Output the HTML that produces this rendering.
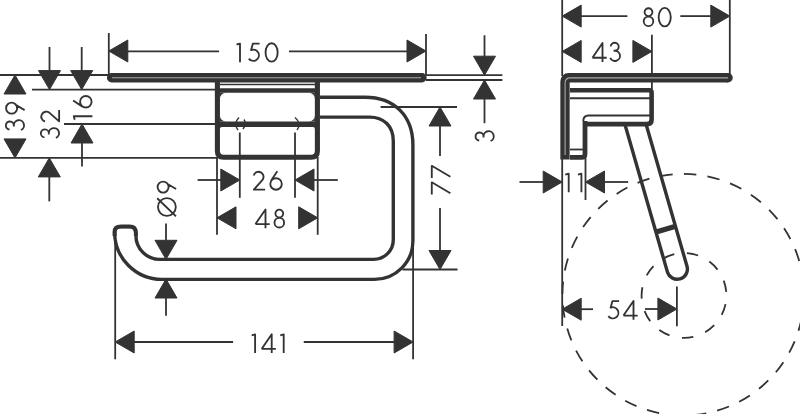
<!DOCTYPE html>
<html><head><meta charset="utf-8"><style>
html,body{margin:0;padding:0;background:#fff;}
svg{display:block;}
text{font-family:"Liberation Sans",sans-serif;fill:#333;stroke:none;}
</style></head><body>
<svg width="800" height="414" viewBox="0 0 800 414">
<g stroke="#333" fill="#333" stroke-linecap="butt">
<line x1="108.8" y1="33" x2="108.8" y2="75" stroke-width="1.8"/>
<line x1="426" y1="34" x2="426" y2="75" stroke-width="1.8"/>
<polygon points="108.8,51 127.8,40 127.8,62"/>
<polygon points="426,51 407,40 407,62"/>
<line x1="127" y1="51.3" x2="219.1" y2="51.3" stroke-width="1.8"/>
<line x1="289" y1="51.3" x2="408" y2="51.3" stroke-width="1.8"/>
<path transform="translate(236.25,62.2)" d="M0.3,-17.7 L3.75,-18.62 V0" fill="none" stroke-width="1.85" stroke-linejoin="round"/>
<path transform="translate(247.6,62.2)" d="M12.0,-18.62 H5.3 L3.51,-12.15 A5.6,5.6 0 1 1 1.23,-3.63" fill="none" stroke-width="1.85" stroke-linejoin="round"/>
<path transform="translate(264.7,62.2)" d="M0.88,-9.75 A6.03,8.88 0 1 1 12.93,-9.75 A6.03,8.88 0 1 1 0.88,-9.75 Z" fill="none" stroke-width="1.85" stroke-linejoin="round"/>
<path d="M111.6,77.75 H422" stroke-width="9.3" stroke-linecap="round" fill="none"/>
<path d="M112,77.8 H421" stroke="#aaaaaa" stroke-width="1.1" fill="none"/>
<line x1="0" y1="75" x2="108" y2="75" stroke-width="1.8"/>
<line x1="32" y1="89.6" x2="217" y2="89.6" stroke-width="1.8"/>
<line x1="64" y1="124" x2="217" y2="124" stroke-width="1.8"/>
<line x1="0" y1="157.9" x2="217" y2="157.9" stroke-width="1.8"/>
<polygon points="15,75 4,94 26,94"/>
<polygon points="15,157.9 4,138.9 26,138.9"/>
<path transform="translate(25,131.2) rotate(-90)" d="M1.72,-15.5 A4.0,4.0 0 1 1 5.7,-11.15 H4.6 M5.7,-11.15 A5.1,5.1 0 1 1 1.21,-4.11" fill="none" stroke-width="1.85" stroke-linejoin="round"/>
<path transform="translate(25,115.2) rotate(-90)" d="M5.1,-0.4 L10.2,-8.9 M1.55,-13.4 A5.5,5.5 0 1 1 12.55,-13.4 A5.5,5.5 0 1 1 1.55,-13.4 Z" fill="none" stroke-width="1.85" stroke-linejoin="round"/>
<polygon points="49.5,89.6 38.5,70.6 60.5,70.6"/>
<line x1="49.5" y1="47" x2="49.5" y2="72" stroke-width="1.8"/>
<polygon points="49.3,157.9 38.3,176.9 60.3,176.9"/>
<line x1="49.3" y1="176" x2="49.3" y2="201.4" stroke-width="1.8"/>
<path transform="translate(60,139.1) rotate(-90)" d="M1.72,-15.5 A4.0,4.0 0 1 1 5.7,-11.15 H4.6 M5.7,-11.15 A5.1,5.1 0 1 1 1.21,-4.11" fill="none" stroke-width="1.85" stroke-linejoin="round"/>
<path transform="translate(60,122.2) rotate(-90)" d="M0.7,-14.96 A5.0,5.0 0 1 1 9.3,-10.44 L0.85,-0.875 H12.1" fill="none" stroke-width="1.85" stroke-linejoin="round"/>
<polygon points="81.7,89.6 70.7,70.6 92.7,70.6"/>
<line x1="81.7" y1="47" x2="81.7" y2="72" stroke-width="1.8"/>
<polygon points="82,124 71,143 93,143"/>
<line x1="82" y1="142" x2="82" y2="166.5" stroke-width="1.8"/>
<path transform="translate(92.4,120) rotate(-90)" d="M0.3,-17.7 L3.75,-18.62 V0" fill="none" stroke-width="1.85" stroke-linejoin="round"/>
<path transform="translate(92.4,108.6) rotate(-90)" d="M8.1,-19.3 L1.96,-9.97 M1.1,-6.55 A5.75,5.75 0 1 1 12.6,-6.55 A5.75,5.75 0 1 1 1.1,-6.55 Z" fill="none" stroke-width="1.85" stroke-linejoin="round"/>
<line x1="426" y1="75.2" x2="502.4" y2="75.2" stroke-width="1.8"/>
<line x1="426" y1="80" x2="502.4" y2="80" stroke-width="1.8"/>
<polygon points="484.5,75.2 473.5,56.2 495.5,56.2"/>
<line x1="484.5" y1="35.3" x2="484.5" y2="57" stroke-width="1.8"/>
<polygon points="484.5,80 473.5,99 495.5,99"/>
<line x1="484.5" y1="98" x2="484.5" y2="123.2" stroke-width="1.8"/>
<path transform="translate(494.7,142.2) rotate(-90)" d="M1.72,-15.5 A4.0,4.0 0 1 1 5.7,-11.15 H4.6 M5.7,-11.15 A5.1,5.1 0 1 1 1.21,-4.11" fill="none" stroke-width="1.85" stroke-linejoin="round"/>
<path d="M217.4,82 V151 Q217.4,157.2 223.6,157.2 H311.2 Q317.4,157.2 317.4,151 V82" stroke-width="5.1" fill="none"/>
<path d="M217.4,90.5 H317.4" stroke-width="4.6" fill="none"/>
<path d="M217.4,124.2 H317.4" stroke-width="5.5" fill="none"/>
<line x1="220" y1="84.5" x2="315" y2="84.5" stroke-width="1.5"/>
<path d="M219.9,92.8 L219.9,98.8 A6,6 0 0 1 225.9,92.8 Z" stroke="none"/>
<path d="M314.9,92.8 L314.9,98.8 A6,6 0 0 0 308.9,92.8 Z" stroke="none"/>
<path d="M219.9,121.45 L219.9,115.45 A6,6 0 0 0 225.9,121.45 Z" stroke="none"/>
<path d="M314.9,121.45 L314.9,115.45 A6,6 0 0 1 308.9,121.45 Z" stroke="none"/>
<path d="M219.9,126.95 L219.9,128.95 A2,2 0 0 1 221.9,126.95 Z" stroke="none"/>
<path d="M314.9,126.95 L314.9,128.95 A2,2 0 0 0 312.9,126.95 Z" stroke="none"/>
<path d="M239,117.5 Q233,123.5 238,130" stroke-width="1.4" fill="none"/>
<path d="M244,119.5 Q247,124 243,129" stroke-width="1.4" fill="none"/>
<path d="M295,117.5 Q302,123.5 297,130" stroke-width="1.4" fill="none"/>
<path d="M320,97.2 H365 C394.2,97.2 412.9,115.8 412.9,145 V240.8 A38.5,38.5 0 0 1 374.4,279.4 H162 A47.4,47.4 0 0 1 114.6,232 C114.6,228.5 117,226.6 121,226.6 H129.5 C133.5,226.6 135.9,228.5 135.9,233 V235.5 A23.9,23.9 0 0 0 159.8,259.4 H373.7 A19.6,19.6 0 0 0 393.3,239.8 V141 C393.3,126.4 384,117.1 369.5,117.1 H320" stroke-width="3.4" fill="none"/>
<path d="M114.6,236 V232 C114.6,228.5 117,226.6 121,226.6 H129.5 C133.5,226.6 135.9,228.5 135.9,233 V236" stroke-width="4" fill="none"/>
<line x1="380.6" y1="107" x2="457" y2="107" stroke-width="1.8"/>
<line x1="402.5" y1="269.5" x2="457.5" y2="269.5" stroke-width="1.8"/>
<polygon points="440,107 429,126 451,126"/>
<line x1="440" y1="125" x2="440" y2="156" stroke-width="1.8"/>
<polygon points="440,269.5 429,250.5 451,250.5"/>
<line x1="440" y1="208" x2="440" y2="251" stroke-width="1.8"/>
<path transform="translate(450.4,194.8) rotate(-90)" d="M0.2,-18.62 H12.5 L1.6,0" fill="none" stroke-width="1.85" stroke-linejoin="round"/>
<path transform="translate(450.4,178.3) rotate(-90)" d="M0.2,-18.62 H12.5 L1.6,0" fill="none" stroke-width="1.85" stroke-linejoin="round"/>
<line x1="239.8" y1="132.5" x2="239.8" y2="197.8" stroke-width="1.8"/>
<line x1="295" y1="132.5" x2="295" y2="197.8" stroke-width="1.8"/>
<line x1="217" y1="157" x2="217" y2="234.8" stroke-width="1.8"/>
<line x1="317.7" y1="157" x2="317.7" y2="234.8" stroke-width="1.8"/>
<polygon points="239.8,180 220.8,169 220.8,191"/>
<line x1="197.6" y1="180" x2="221" y2="180" stroke-width="1.8"/>
<polygon points="295,180 314,169 314,191"/>
<line x1="313" y1="180" x2="337.8" y2="180" stroke-width="1.8"/>
<path transform="translate(253,190.5)" d="M0.7,-14.96 A5.0,5.0 0 1 1 9.3,-10.44 L0.85,-0.875 H12.1" fill="none" stroke-width="1.85" stroke-linejoin="round"/>
<path transform="translate(269.2,190.5)" d="M8.1,-19.3 L1.96,-9.97 M1.1,-6.55 A5.75,5.75 0 1 1 12.6,-6.55 A5.75,5.75 0 1 1 1.1,-6.55 Z" fill="none" stroke-width="1.85" stroke-linejoin="round"/>
<polygon points="217,217.8 236,206.8 236,228.8"/>
<polygon points="317.7,217.8 298.7,206.8 298.7,228.8"/>
<path transform="translate(254.6,228.3)" d="M0.85,-4.2 H15.1 M10.9,0 V-18.9 L0.85,-4.2" fill="none" stroke-width="1.85" stroke-linejoin="round"/>
<path transform="translate(273.6,228.3)" d="M1.8,-14.75 A3.9,3.9 0 1 1 9.6,-14.75 A3.9,3.9 0 1 1 1.8,-14.75 Z M0.9,-5.65 A4.8,4.8 0 1 1 10.5,-5.65 A4.8,4.8 0 1 1 0.9,-5.65 Z" fill="none" stroke-width="1.85" stroke-linejoin="round"/>
<polygon points="166,259.3 155,240.3 177,240.3"/>
<line x1="166" y1="223.4" x2="166" y2="241" stroke-width="1.8"/>
<polygon points="166,279 155,298 177,298"/>
<line x1="166" y1="297" x2="166" y2="315.8" stroke-width="1.8"/>
<path transform="translate(176.5,216.75) rotate(-90)" d="M0.85,-9.6 A8.9,8.9 0 1 1 18.65,-9.6 A8.9,8.9 0 1 1 0.85,-9.6 Z M0.3,-0.5 L18.5,-19.3" fill="none" stroke-width="1.85" stroke-linejoin="round"/>
<path transform="translate(176.5,194.15) rotate(-90)" d="M5.1,-0.4 L10.2,-8.9 M1.55,-13.4 A5.5,5.5 0 1 1 12.55,-13.4 A5.5,5.5 0 1 1 1.55,-13.4 Z" fill="none" stroke-width="1.85" stroke-linejoin="round"/>
<line x1="115.2" y1="240" x2="115.2" y2="359.3" stroke-width="1.8"/>
<line x1="413.1" y1="246" x2="413.1" y2="359.3" stroke-width="1.8"/>
<polygon points="115.2,342 134.2,331 134.2,353"/>
<polygon points="413.1,342 394.1,331 394.1,353"/>
<line x1="133" y1="342" x2="233.1" y2="342" stroke-width="1.8"/>
<line x1="303.75" y1="342" x2="395" y2="342" stroke-width="1.8"/>
<path transform="translate(251.35,353.1)" d="M0.3,-17.7 L3.75,-18.62 V0" fill="none" stroke-width="1.85" stroke-linejoin="round"/>
<path transform="translate(260.8,353.1)" d="M0.85,-4.2 H15.1 M10.9,0 V-18.9 L0.85,-4.2" fill="none" stroke-width="1.85" stroke-linejoin="round"/>
<path transform="translate(279.95,353.1)" d="M0.3,-17.7 L3.75,-18.62 V0" fill="none" stroke-width="1.85" stroke-linejoin="round"/>
<line x1="562.2" y1="0" x2="562.2" y2="76" stroke-width="1.8"/>
<line x1="729.8" y1="0" x2="729.8" y2="74.5" stroke-width="1.8"/>
<polygon points="562.2,16.1 581.2,5.100000000000001 581.2,27.1"/>
<polygon points="729.8,16.1 710.8,5.100000000000001 710.8,27.1"/>
<line x1="580" y1="16.1" x2="627.4" y2="16.1" stroke-width="1.8"/>
<line x1="680.3" y1="16.1" x2="712" y2="16.1" stroke-width="1.8"/>
<path transform="translate(642.8,26.9)" d="M1.8,-14.75 A3.9,3.9 0 1 1 9.6,-14.75 A3.9,3.9 0 1 1 1.8,-14.75 Z M0.9,-5.65 A4.8,4.8 0 1 1 10.5,-5.65 A4.8,4.8 0 1 1 0.9,-5.65 Z" fill="none" stroke-width="1.85" stroke-linejoin="round"/>
<path transform="translate(657.8,26.9)" d="M0.88,-9.75 A6.03,8.88 0 1 1 12.93,-9.75 A6.03,8.88 0 1 1 0.88,-9.75 Z" fill="none" stroke-width="1.85" stroke-linejoin="round"/>
<line x1="651.9" y1="34.7" x2="651.9" y2="89" stroke-width="1.8"/>
<polygon points="562.2,51.4 581.2,40.4 581.2,62.4"/>
<polygon points="651.9,51.4 632.9,40.4 632.9,62.4"/>
<path transform="translate(591.6,61.9)" d="M0.85,-4.2 H15.1 M10.9,0 V-18.9 L0.85,-4.2" fill="none" stroke-width="1.85" stroke-linejoin="round"/>
<path transform="translate(609,61.9)" d="M1.72,-15.5 A4.0,4.0 0 1 1 5.7,-11.15 H4.6 M5.7,-11.15 A5.1,5.1 0 1 1 1.21,-4.11" fill="none" stroke-width="1.85" stroke-linejoin="round"/>
<path d="M565,159.5 V81.5 Q565,77.75 568.75,77.75 H728" stroke-width="9.3" stroke-linecap="butt" fill="none"/>
<path d="M728,77.75 H728.1" stroke-width="9.3" stroke-linecap="round" fill="none"/>
<path d="M565.1,155 V83 Q565.1,77.9 570.2,77.9 H728" stroke="#aaaaaa" stroke-width="1.1" fill="none"/>
<path d="M570,90.3 H649.3 Q651.6,90.3 651.6,92.6 V119.4 Q651.6,124.1 646.9,124.1 H585" stroke-width="4.6" fill="none"/>
<path d="M585,121 V154 Q585,157.4 581.6,157.4 H570" stroke-width="4.8" fill="none"/>
<line x1="570" y1="98.3" x2="650" y2="98.3" stroke-width="2"/>
<path d="M650,115.5 H588.5 Q583.3,115.5 583.3,121" stroke-width="2" fill="none"/>
<line x1="570" y1="149.5" x2="583" y2="149.5" stroke-width="1.8"/>
<path d="M625.1,125 L667.4,271.9 A10.18,10.18 0 0 0 687.0,266.3 L646.3,125" stroke-width="3.4" fill="none"/>
<path d="M656.1,232 L675.7,226.3" stroke-width="5.2" fill="none"/>
<line x1="562.2" y1="158" x2="562.2" y2="326" stroke-width="1.8"/>
<line x1="585.5" y1="158" x2="585.5" y2="200" stroke-width="1.8"/>
<polygon points="562.2,182 543.2,171 543.2,193"/>
<line x1="519.5" y1="182" x2="544" y2="182" stroke-width="1.8"/>
<polygon points="585.5,182 604.5,171 604.5,193"/>
<line x1="604" y1="182" x2="628.2" y2="182" stroke-width="1.8"/>
<path transform="translate(564.95,192.3)" d="M0.3,-17.7 L3.75,-18.62 V0" fill="none" stroke-width="1.85" stroke-linejoin="round"/>
<path transform="translate(577.65,192.3)" d="M0.3,-17.7 L3.75,-18.62 V0" fill="none" stroke-width="1.85" stroke-linejoin="round"/>
<polygon points="562.2,309.2 581.2,298.2 581.2,320.2"/>
<line x1="580" y1="309.2" x2="593" y2="309.2" stroke-width="1.8"/>
<polygon points="676.9,309 657.9,298 657.9,320"/>
<line x1="645" y1="309" x2="659" y2="309" stroke-width="1.8"/>
<line x1="676.9" y1="286.5" x2="676.9" y2="326.2" stroke-width="1.8"/>
<path transform="translate(607.1,319.8)" d="M12.0,-18.62 H5.3 L3.51,-12.15 A5.6,5.6 0 1 1 1.23,-3.63" fill="none" stroke-width="1.85" stroke-linejoin="round"/>
<path transform="translate(622.6,319.8)" d="M0.85,-4.2 H15.1 M10.9,0 V-18.9 L0.85,-4.2" fill="none" stroke-width="1.85" stroke-linejoin="round"/>
<path d="M804.0,294.7 A120.8,120.8 0 1 1 562.4000000000001,294.7 A120.8,120.8 0 1 1 804.0,294.7" fill="none" stroke-width="1.8" stroke-dasharray="12.5 11.219" stroke-dashoffset="23.259"/>
<path d="M726.4,295.5 A42.4,42.4 0 1 1 641.6,295.5 A42.4,42.4 0 1 1 726.4,295.5" fill="none" stroke-width="1.8" stroke-dasharray="11.5 12.719" stroke-dashoffset="15.569"/>
</g>
</svg>
</body></html>
